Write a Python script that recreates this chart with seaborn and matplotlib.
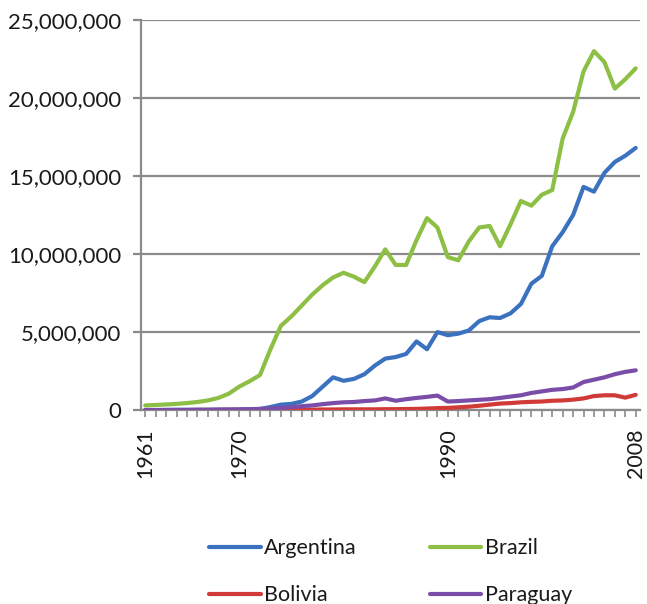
import numpy as np
import pandas as pd
import matplotlib
matplotlib.use("Agg")
import matplotlib.pyplot as plt
from matplotlib.ticker import FuncFormatter, MultipleLocator
import seaborn as sns

years = list(range(1961, 2009))

argentina = [0.01, 0.01, 0.01, 0.02, 0.02, 0.02, 0.02, 0.03, 0.03, 0.03,
             0.04, 0.07, 0.20, 0.35, 0.40, 0.55, 0.90, 1.50, 2.10, 1.88,
             2.00, 2.30, 2.85, 3.30, 3.40, 3.60, 4.40, 3.90, 5.00, 4.80,
             4.90, 5.10, 5.70, 5.95, 5.90, 6.20, 6.80, 8.10, 8.60, 10.50,
             11.40, 12.50, 14.30, 14.00, 15.20, 15.90, 16.30, 16.80]

brazil = [0.30, 0.33, 0.36, 0.40, 0.45, 0.52, 0.62, 0.78, 1.05, 1.50,
          1.85, 2.25, 3.90, 5.40, 6.00, 6.70, 7.40, 8.00, 8.50, 8.80,
          8.55, 8.20, 9.20, 10.30, 9.30, 9.30, 10.90, 12.30, 11.70, 9.80,
          9.60, 10.80, 11.70, 11.80, 10.50, 11.90, 13.40, 13.10, 13.80, 14.10,
          17.40, 19.10, 21.70, 23.00, 22.30, 20.60, 21.20, 21.90]

bolivia = [0.00, 0.00, 0.00, 0.00, 0.00, 0.01, 0.01, 0.01, 0.01, 0.01,
           0.01, 0.01, 0.02, 0.02, 0.02, 0.03, 0.03, 0.04, 0.04, 0.05,
           0.05, 0.05, 0.05, 0.06, 0.06, 0.07, 0.08, 0.10, 0.13, 0.14,
           0.18, 0.22, 0.28, 0.35, 0.42, 0.45, 0.50, 0.53, 0.55, 0.60,
           0.62, 0.67, 0.75, 0.90, 0.95, 0.95, 0.80, 0.98]

paraguay = [0.00, 0.00, 0.01, 0.01, 0.01, 0.02, 0.02, 0.03, 0.04, 0.05,
            0.06, 0.08, 0.10, 0.14, 0.20, 0.25, 0.30, 0.38, 0.45, 0.50,
            0.52, 0.58, 0.62, 0.75, 0.60, 0.70, 0.78, 0.85, 0.93, 0.55,
            0.58, 0.62, 0.66, 0.70, 0.78, 0.87, 0.95, 1.10, 1.20, 1.30,
            1.35, 1.45, 1.80, 1.95, 2.10, 2.30, 2.45, 2.55]

countries = ["Argentina", "Brazil", "Bolivia", "Paraguay"]
colors = ["#3b72c0", "#8dbf45", "#d03b38", "#7a4ea8"]
label_years = [1961, 1970, 1990, 2008]

# long table for seaborn (values given in millions)
series = {"Argentina": argentina, "Brazil": brazil, "Bolivia": bolivia, "Paraguay": paraguay}
df = pd.concat([pd.DataFrame({"Year": years, "Value": np.array(v) * 1e6, "Country": k})
                for k, v in series.items()], ignore_index=True)

sns.set_style("white")
plt.rcParams["font.family"] = ["Lato", "DejaVu Sans"]

fig = plt.figure(figsize=(6.47, 6.04), dpi=100)
ax = fig.add_axes([0.218, 0.321, 0.771, 0.646])

sns.lineplot(data=df, x="Year", y="Value", hue="Country", hue_order=countries,
             palette=dict(zip(countries, colors)), linewidth=3, ax=ax, zorder=3)

ax.set_xlim(1960.6, 2008.4)
ax.set_ylim(0, 25e6)
ax.yaxis.set_major_locator(MultipleLocator(5e6))
ax.yaxis.set_major_formatter(FuncFormatter(lambda v, p: f"{int(v):,}"))
ax.set_xticks(label_years)
ax.set_xticklabels([str(y) for y in label_years], rotation=90)
ax.xaxis.set_minor_locator(MultipleLocator(1))

ax.grid(axis="y", color="#8a8a8a", linewidth=1.6)
ax.set_axisbelow(True)
for s in ["top", "right"]:
    ax.spines[s].set_visible(False)
for s in ["left", "bottom"]:
    ax.spines[s].set_color("#8a8a8a")
    ax.spines[s].set_linewidth(1.6)

ax.tick_params(axis="y", which="major", direction="out", length=6, width=1.6,
               color="#8a8a8a", left=True, pad=8, labelsize=16, labelcolor="#1a1a1a")
ax.tick_params(axis="x", which="both", direction="out", length=5, width=1.2,
               color="#8a8a8a", bottom=True, pad=8, labelsize=15.5, labelcolor="#1a1a1a")
ax.set_xlabel("")
ax.set_ylabel("")

# legend fills column by column, so reorder to get rows Argentina/Brazil, Bolivia/Paraguay
handles, labels = ax.get_legend_handles_labels()
lookup = dict(zip(labels, handles))
order = ["Argentina", "Bolivia", "Brazil", "Paraguay"]
ax.legend([lookup[k] for k in order], order, loc="upper center", bbox_to_anchor=(0.50, -0.29),
          ncol=2, frameon=False, fontsize=15.5, handlelength=2.4, handletextpad=0.15,
          columnspacing=3.4, labelspacing=1.25, labelcolor="#1a1a1a", borderpad=0.2)

plt.savefig("out.png", dpi=100)
plt.close()
